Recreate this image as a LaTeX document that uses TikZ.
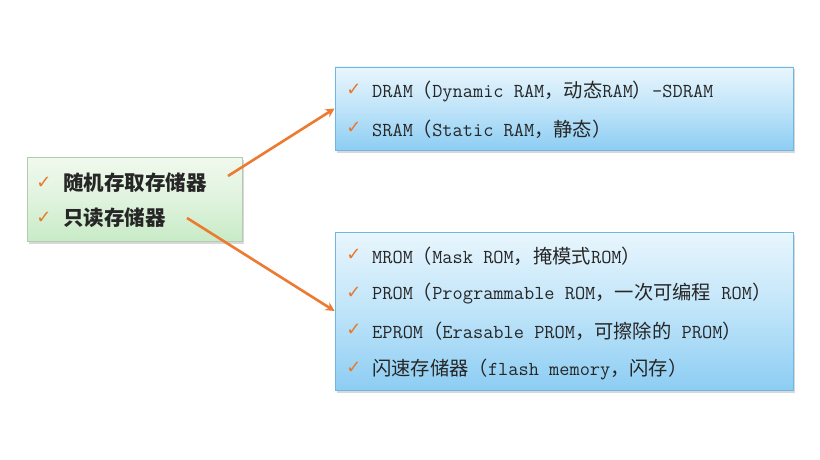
\documentclass[tikz,border=0pt]{standalone}
\usepackage{fontspec}
\newfontfamily\cjk{Noto Sans CJK SC}
\newfontfamily\symf{DejaVu Sans}
\usetikzlibrary{arrows.meta,shadows}
\definecolor{chk}{HTML}{E8782A}
\definecolor{arr}{HTML}{EC7A30}
\definecolor{txt}{HTML}{262626}
\definecolor{gtop}{HTML}{F0F9EE}
\definecolor{gmid}{HTML}{E0F3DE}
\definecolor{gbot}{HTML}{C8EBC6}
\definecolor{gbrd}{HTML}{B5C9B3}
\definecolor{btop}{HTML}{E9F6FD}
\definecolor{bmid}{HTML}{BFE4F9}
\definecolor{bbot}{HTML}{8DCDF3}
\definecolor{bbrd}{HTML}{6FB6E2}
\newcommand{\ck}{{\symf\color{chk}\fontsize{18}{18}\selectfont ✓}}
\begin{document}
\begin{tikzpicture}[x=1pt,y=-1pt,
  greenbox/.style={draw=gbrd, line width=0.8pt, top color=gtop, bottom color=gbot, middle color=gmid,
    drop shadow={shadow xshift=1.5pt, shadow yshift=-2.5pt, opacity=0.3}, rectangle, inner sep=0pt},
  bluebox/.style={draw=bbrd, line width=0.8pt, top color=btop, bottom color=bbot, middle color=bmid,
    drop shadow={shadow xshift=1.5pt, shadow yshift=-2.5pt, opacity=0.3}, rectangle, inner sep=0pt},
  item/.style={anchor=west, inner sep=0pt, text=txt, font=\ttfamily\fontsize{19.8}{22}\selectfont},
  gitem/.style={anchor=west, inner sep=0pt, text=txt, font=\cjk\bfseries\fontsize{20.5}{24}\selectfont},
  tick/.style={inner sep=0pt},
  conn/.style={draw=arr, line width=2.6pt, -{Stealth[length=9pt,width=9pt]}}]
\useasboundingbox (0,0) rectangle (820,460);
\fill[white] (0,0) rectangle (820,460);
\newcommand{\cz}[1]{{\cjk\fontsize{19.3}{22}\selectfont #1}}
% boxes
\node[greenbox, minimum width=215pt, minimum height=84pt] (gbox) at (135,199) {};
\node[bluebox, minimum width=458pt, minimum height=83pt] (tbox) at (564,108.5) {};
\node[bluebox, minimum width=458pt, minimum height=158pt] (bbox) at (564,311) {};
% green items
\node[tick] (gc1) at (44,183) {\ck};
\node[gitem] (g1) at (63,183) {随机存取存储器};
\node[tick] (gc2) at (44,218) {\ck};
\node[gitem] (g2) at (63,218) {只读存储器};
% top items
\node[tick] (tc1) at (354,90) {\ck};
\node[item] (t1) at (372,91) {DRAM\cz{（}Dynamic RAM\cz{，动态}RAM\cz{）}-SDRAM};
\node[tick] (tc2) at (354,128) {\ck};
\node[item] (t2) at (372,129) {SRAM\cz{（}Static RAM\cz{，静态）}};
% bottom items
\node[tick] (bc1) at (354,255) {\ck};
\node[item] (b1) at (372,256) {MROM\cz{（}Mask ROM\cz{，掩模式}ROM\cz{）}};
\node[tick] (bc2) at (354,293) {\ck};
\node[item] (b2) at (372,294) {PROM\cz{（}Programmable ROM\cz{，一次可编程} ROM\cz{）}};
\node[tick] (bc3) at (354,330) {\ck};
\node[item] (b3) at (372,331) {EPROM\cz{（}Erasable PROM\cz{，可擦除的} PROM\cz{）}};
\node[tick] (bc4) at (354,368) {\ck};
\node[item] (b4) at (372,369) {\cz{闪速存储器（}flash memory\cz{，闪存）}};
% connectors
\coordinate (s1) at (228,176);
\coordinate (s2) at (187,218);
\draw[conn] (s1) -- (tbox.west);
\draw[conn] (s2) -- (bbox.west);
\end{tikzpicture}
\end{document}
